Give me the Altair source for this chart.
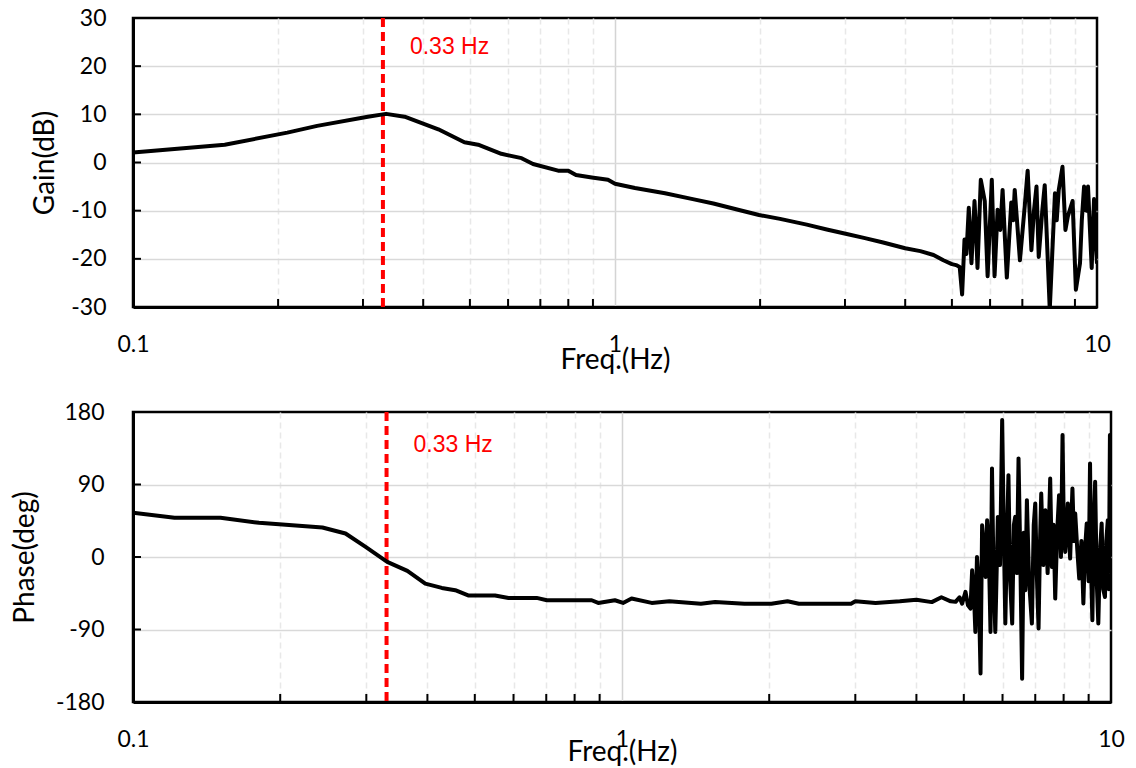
import altair as alt
import pandas as pd

# ---------------- data ----------------
gain_freq = [0.1, 0.155, 0.209, 0.241, 0.307, 0.335, 0.366, 0.43, 0.487, 0.52,
             0.581, 0.64, 0.676, 0.762, 0.80, 0.83, 0.895, 0.967, 1.0, 1.1,
             1.27, 1.45, 1.6, 1.8, 1.99, 2.2, 2.5, 2.75, 3.01, 3.3,
             3.6, 4.0, 4.3, 4.58, 4.8, 5.0, 5.1,
             5.19, 5.25, 5.31, 5.36, 5.42, 5.49, 5.57, 5.61, 5.65, 5.74,
             5.85, 5.93, 6.05, 6.13, 6.22, 6.30, 6.37, 6.50, 6.64, 6.70,
             6.75, 6.92, 7.08, 7.18, 7.31, 7.40, 7.49, 7.57, 7.70, 7.79,
             7.98, 8.18, 8.25, 8.33, 8.48, 8.60, 8.70, 8.90, 9.04, 9.22,
             9.30, 9.40, 9.50, 9.58, 9.75, 9.86, 9.95, 10.0]
gain_db = [2.1, 3.7, 6.2, 7.6, 9.5, 10.1, 9.5, 6.9, 4.2, 3.7,
           1.8, 0.9, -0.3, -1.7, -1.7, -2.6, -3.1, -3.6, -4.4, -5.3,
           -6.4, -7.6, -8.5, -9.8, -10.9, -11.7, -12.9, -13.9, -14.8, -15.7,
           -16.6, -17.8, -18.4, -19.2, -20.3, -21.1, -21.3,
           -21.7, -27.4, -16.0, -19.0, -9.4, -20.9, -8.0, -14.0, -21.9, -3.6,
           -8.0, -23.6, -3.6, -23.6, -9.8, -14.0, -5.7, -23.9, -8.3, -12.0,
           -5.7, -20.3, -9.1, -1.7, -18.2, -10.0, -5.0, -19.6, -10.0, -4.7,
           -30.5, -6.4, -12.0, -5.7, -0.9, -14.0, -11.2, -8.0, -26.4, -20.9,
           -12.0, -5.0, -10.0, -5.0, -21.9, -7.6, -16.8, -21.0]

phase_freq = [0.1, 0.1216, 0.151, 0.181, 0.244, 0.272, 0.299, 0.331, 0.364, 0.396,
              0.428, 0.456, 0.486, 0.55, 0.586, 0.669, 0.702, 0.867, 0.894, 0.967,
              1.005, 1.046, 1.15, 1.25, 1.45, 1.55, 1.78, 2.02, 2.18, 2.3,
              2.94, 3.0, 3.3, 3.7, 4.0, 4.3, 4.5, 4.7,
              4.81, 4.9, 4.96, 5.04, 5.1, 5.16, 5.20, 5.24, 5.28, 5.32,
              5.36, 5.41, 5.45, 5.50, 5.54, 5.58, 5.62, 5.67, 5.71, 5.75,
              5.80, 5.87, 5.93, 5.99, 6.04, 6.08, 6.13, 6.17, 6.22, 6.28,
              6.33, 6.37, 6.42, 6.47, 6.52, 6.58, 6.63, 6.68, 6.73, 6.80,
              6.89, 6.95, 7.00, 7.05, 7.11, 7.16, 7.20, 7.27, 7.34, 7.42,
              7.51, 7.57, 7.63, 7.69, 7.76, 7.83, 7.90, 7.96, 8.01, 8.06,
              8.11, 8.16, 8.21, 8.25, 8.30, 8.34, 8.40, 8.45, 8.53, 8.61,
              8.70, 8.78, 8.85, 8.92, 9.00, 9.06, 9.11, 9.16, 9.22, 9.28,
              9.35, 9.42, 9.50, 9.57, 9.64, 9.72, 9.78, 9.85, 9.90, 9.95, 10.0]
phase_deg = [54.8, 48.6, 48.6, 42.4, 36.6, 29.2, 12.5, -6.1, -17.3, -33.0,
             -38.4, -41.2, -47.9, -47.9, -50.8, -50.8, -53.7, -53.7, -57.0, -53.7,
             -57.0, -51.6, -57.0, -55.0, -58.0, -56.0, -58.0, -58.0, -55.0, -58.0,
             -58.0, -55.0, -57.0, -55.0, -53.0, -56.0, -50.0, -55.0,
             -55.7, -50.0, -58.0, -43.3, -60.0, -64.0, -16.4, -40.0, -93.0, 0.0,
             -30.0, -144.7, 39.5, 10.0, -24.7, 45.7, 20.0, -93.0, 110.0, -20.0,
             -93.0, 49.8, -10.0, 170.0, 20.0, -82.6, 30.0, 101.6, -30.0, -82.6,
             40.0, 49.8, -20.0, 122.4, 10.0, -151.0, 30.0, -41.2, 70.6, -30.0,
             -82.6, 40.0, 66.5, -20.0, -88.8, 20.0, 78.9, -10.0, 58.1, -20.0,
             97.5, -12.3, 40.0, -51.6, 30.0, 76.8, 0.0, 151.3, 30.0, 6.3,
             40.0, 66.5, 20.0, -1.9, 50.0, 85.1, 20.0, 54.0, 10.0, -26.7,
             20.0, -57.8, 10.0, 41.6, -30.0, 116.1, -20.0, -78.5, 40.0, 93.3,
             -30.0, -82.6, 10.0, 41.6, -40.0, -49.6, 20.0, 45.7, -40.0, 151.3, -20.0]

gain_ticks = [-30, -20, -10, 0, 10, 20, 30]
phase_ticks = [-180, -90, 0, 90, 180]
decades = [0.1, 1, 10]
minor_freq = [0.2, 0.3, 0.4, 0.5, 0.6, 0.7, 0.8, 0.9, 2, 3, 4, 5, 6, 7, 8, 9]
grid_freq = [0.1] + minor_freq[:8] + [1] + minor_freq[8:] + [10]
marker_freq = [0.33]
marker_text = ["0.33 Hz"]
marker_label_y = {"gain": 24, "phase": 139}

FONT = "Lato"
dec_test = " || ".join(f"datum.value == {d}" for d in decades)
label_expr = f"({dec_test}) ? toString(datum.value) : ''"
edge_x_test = f"datum.value == {decades[0]} || datum.value == {decades[-1]}"


def panel(freq, vals, yticks, ytitle, width, height, title_x, label_pad, label_y, xtitle_y):
    xs = alt.Scale(type="log", domain=[0.1, 10], nice=False)
    ys = alt.Scale(domain=[yticks[0], yticks[-1]], nice=False, zero=False)
    edge_y_test = f"datum.value == {yticks[0]} || datum.value == {yticks[-1]}"
    xaxis = alt.Axis(
        values=grid_freq, labelExpr=label_expr, labelOverlap=False, labelFlush=False,
        labelBound=False, ticks=False, tickSize=0, labelPadding=26,
        grid=True, gridWidth=1.5,
        gridDash={"condition": {"test": dec_test, "value": []}, "value": [6, 4]},
        gridColor={"condition": {"test": dec_test, "value": "#d4d4d4"}, "value": "#e8e8e8"},
        gridOpacity={"condition": {"test": edge_x_test, "value": 0}, "value": 1},
        domainColor="black", domainWidth=3,
        titleY=xtitle_y, titleBaseline="middle",
    )
    yaxis = alt.Axis(
        values=yticks, ticks=False, tickSize=0, labelPadding=label_pad,
        labelExpr="toString(datum.value)",
        grid=True, gridColor="#d9d9d9", gridWidth=1.5,
        gridOpacity={"condition": {"test": edge_y_test, "value": 0}, "value": 1},
        domainColor="black", domainWidth=3, labelFlush=False, labelBound=False,
        titleX=title_x, titleY=height / 2, titleBaseline="middle", titleAngle=270,
    )
    X = alt.X("f:Q", scale=xs, title="Freq.(Hz)")
    Y = alt.Y("v:Q", scale=ys, title=ytitle)

    df = pd.DataFrame({"f": freq, "v": vals})
    line = alt.Chart(df).mark_line(
        color="black", strokeWidth=4, strokeJoin="round", clip=True
    ).encode(x=alt.X("f:Q", scale=xs, title="Freq.(Hz)", axis=xaxis),
             y=alt.Y("v:Q", scale=ys, title=ytitle, axis=yaxis))

    xt = alt.Chart(pd.DataFrame({"f": minor_freq})).mark_rule(
        color="black", strokeWidth=2
    ).encode(x=X, y=alt.value(height - 8), y2=alt.value(height))

    yt = alt.Chart(pd.DataFrame({"v": yticks[1:-1]})).mark_rule(
        color="black", strokeWidth=2
    ).encode(y=Y, x=alt.value(0), x2=alt.value(8))

    mk = alt.Chart(pd.DataFrame({"f": marker_freq})).mark_rule(
        color="#ff0000", strokeWidth=4, strokeDash=[9, 5]
    ).encode(x=X)

    txt = alt.Chart(pd.DataFrame({"f": marker_freq, "v": [label_y], "t": marker_text})).mark_text(
        color="#ff0000", font="Liberation Sans", fontSize=23, align="left",
        baseline="middle", dx=27
    ).encode(x=X, y=Y, text="t:N")

    return alt.layer(mk, line, xt, yt, txt).properties(width=width, height=height)


top = panel(gain_freq, gain_db, gain_ticks, "Gain(dB)", 964, 289, -88, 27,
            marker_label_y["gain"], 53)
bottom = panel(phase_freq, phase_deg, phase_ticks, "Phase(deg)", 978, 290, -108, 29,
               marker_label_y["phase"], 50)

chart = alt.vconcat(top, bottom, spacing=23).properties(
    padding={"left": 9, "top": 5, "right": 5, "bottom": 2}
).configure_view(
    stroke="black", strokeWidth=2.5
).configure_axis(
    labelFont=FONT, labelFontSize=23, labelColor="black",
    titleFont=FONT, titleFontSize=28, titleFontWeight="normal", titleColor="black",
)

chart.save("out.html", embed_options={"renderer": "svg", "actions": False})
